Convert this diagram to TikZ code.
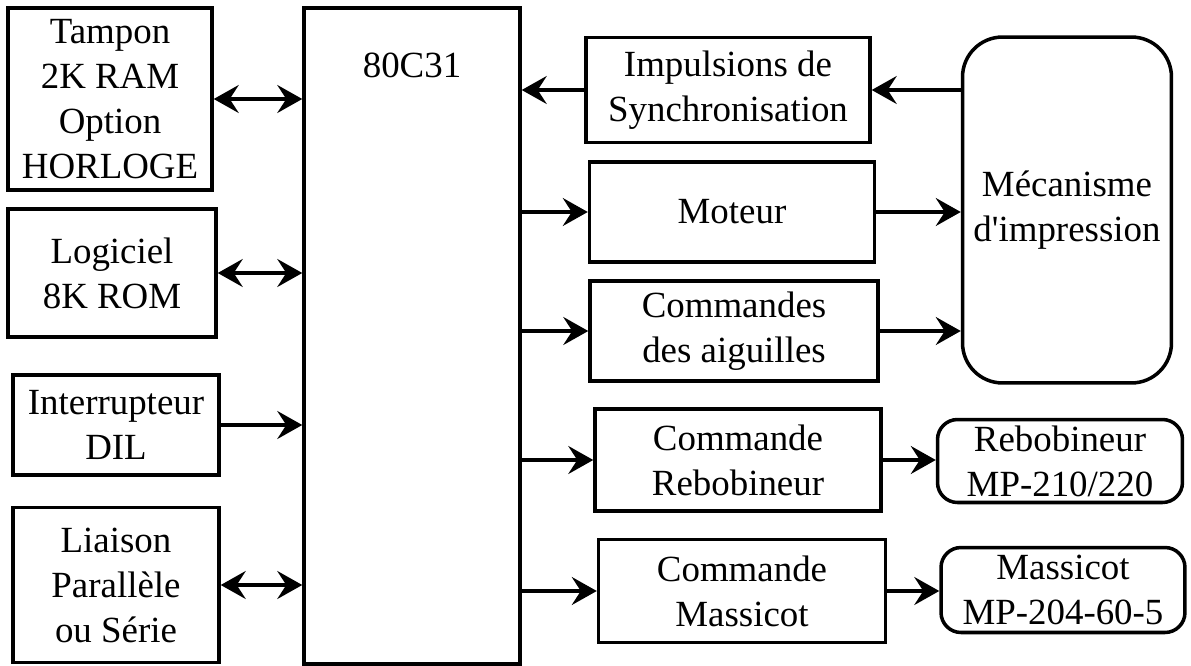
\documentclass[tikz,border=0pt]{standalone}
\usepackage{fontspec}
\newfontfamily\diagfont{Liberation Serif}
\usetikzlibrary{arrows.meta}

\begin{document}
\begin{tikzpicture}[x=0.02cm, y=-0.02cm,
        box/.style={draw, rectangle, line width=2pt, align=center,
            font=\diagfont\fontsize{21}{25.6}\selectfont},
        rbox/.style={box, rounded corners=0.4cm},
        link/.style={line width=1.8pt},
        >={Stealth[length=0.5cm, width=0.56cm, inset=0.18cm]}]
        \useasboundingbox (0,0) rectangle (1191,666);
        % printer controller board
        \node[box, minimum width=4.08cm, minimum height=3.64cm] (tampon) at (110,99) {Tampon\\2K RAM\\Option\\HORLOGE};
        \node[box, minimum width=4.16cm, minimum height=2.56cm] (logiciel) at (112,273) {Logiciel\\8K ROM};
        \node[box, minimum width=4.12cm, minimum height=2.0cm] (dil) at (116,425) {Interrupteur\\DIL};
        \node[box, minimum width=4.12cm, minimum height=3.1cm] (liaison) at (116,585) {Liaison\\Parallèle\\ou Série};
        \node[box, minimum width=4.32cm, minimum height=13.12cm,
            label={[anchor=north, yshift=-0.8cm, font=\diagfont\fontsize{21}{25.6}\selectfont]north:80C31}] (cpu) at (412,336) {};

        \node[box, minimum width=5.68cm, minimum height=2.1cm] (synchro) at (728,90) {Impulsions de\\Synchronisation};
        \node[box, minimum width=5.7cm, minimum height=2.0cm] (moteur) at (732,212) {Moteur};
        \node[box, minimum width=5.76cm, minimum height=2.0cm] (aiguilles) at (734,331) {Commandes\\des aiguilles};
        \node[box, minimum width=5.72cm, minimum height=2.04cm] (cmdrebob) at (738,460) {Commande\\Rebobineur};
        \node[box, minimum width=5.74cm, minimum height=2.06cm] (cmdmass) at (742,591) {Commande\\Massicot};

        \node[rbox, rounded corners=0.8cm, minimum width=4.18cm, minimum height=6.92cm] (meca) at (1067,210) {Mécanisme\\d'impression};
        \node[rbox, minimum width=4.9cm, minimum height=1.66cm] (rebob) at (1060,461) {Rebobineur\\MP-210/220};
        \node[rbox, minimum width=4.88cm, minimum height=1.7cm] (mass) at (1063,590) {Massicot\\MP-204-60-5};

        \draw[<->, link] (tampon.east) -- (tampon.east -| cpu.west);
        \draw[<->, link] (logiciel.east) -- (logiciel.east -| cpu.west);
        \draw[->, link] (dil.east) -- (dil.east -| cpu.west);
        \draw[<->, link] (liaison.east) -- (liaison.east -| cpu.west);

        \draw[->, link] (synchro.west) -- (synchro.west -| cpu.east);
        \draw[->, link] (moteur.west -| cpu.east) -- (moteur.west);
        \draw[->, link] (aiguilles.west -| cpu.east) -- (aiguilles.west);
        \draw[->, link] (cmdrebob.west -| cpu.east) -- (cmdrebob.west);
        \draw[->, link] (cmdmass.west -| cpu.east) -- (cmdmass.west);

        \draw[->, link] (synchro.east -| meca.west) -- (synchro.east);
        \draw[->, link] (moteur.east) -- (moteur.east -| meca.west);
        \draw[->, link] (aiguilles.east) -- (aiguilles.east -| meca.west);
        \draw[->, link] (cmdrebob.east) -- (cmdrebob.east -| rebob.west);
        \draw[->, link] (cmdmass.east) -- (cmdmass.east -| mass.west);
    \end{tikzpicture}
\end{document}
